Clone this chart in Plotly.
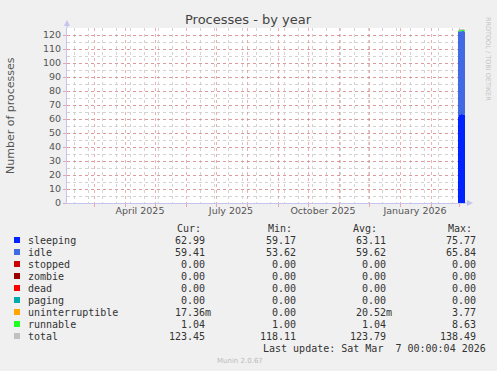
import plotly.graph_objects as go

# ---------------- data ----------------
dates = ["2026-02-28", "2026-03-01", "2026-03-02", "2026-03-03",
         "2026-03-04", "2026-03-05", "2026-03-06", "2026-03-07"]
sleeping = [61.8, 63.2, 62.8, 63.5, 62.9, 63.4, 63.1, 62.99]
idle = [60.3, 59.5, 59.8, 59.2, 59.9, 59.6, 59.4, 59.41]
stopped = [0, 0, 0, 0, 0, 0, 0, 0]
zombie = [0, 0, 0, 0, 0, 0, 0, 0]
dead = [0, 0, 0, 0, 0, 0, 0, 0]
paging = [0, 0, 0, 0, 0, 0, 0, 0]
uninterruptible = [0.02, 0.02, 0.03, 0.02, 0.01, 0.02, 0.02, 0.017]
runnable = [1.1, 1.05, 1.04, 1.03, 1.06, 1.02, 1.05, 1.04]

series_names = ["sleeping", "idle", "stopped", "zombie", "dead", "paging",
                "uninterruptible", "runnable", "total"]
series_colors = ["#0022ff", "#4169e1", "#cc0000", "#990000", "#ff0000",
                 "#00aaaa", "#ffa500", "#22ff22", "#c0c0c0"]
stack_values = [sleeping, idle, stopped, zombie, dead, paging,
                uninterruptible, runnable]
total = [sum(v) for v in zip(*stack_values)]

cur_vals = [62.99, 59.41, 0, 0, 0, 0, 0.01736, 1.04, 123.45]
min_vals = [59.17, 53.62, 0, 0, 0, 0, 0, 1.00, 118.11]
avg_vals = [63.11, 59.62, 0, 0, 0, 0, 0.02052, 1.04, 123.79]
max_vals = [75.77, 65.84, 0, 0, 0, 0, 3.77, 8.63, 138.49]

x_range = ["2025-02-02", "2026-03-07"]
y_ticks = list(range(0, 121, 10))
month_label_vals = ["2025-04-16", "2025-07-16", "2025-10-16", "2026-01-16"]
month_label_text = ["April 2025", "July 2025", "October 2025", "January 2026"]

# ---------------- geometry helpers ----------------
W, H = 497, 371
L, R, T, B = 67, 465, 28, 203
pw, ph = R - L, B - T


def px(x):
    return (x - L) / pw


def py(y):
    return (B - y) / ph


def fmt(v):
    if v == 0:
        return "0.00\u00a0"
    if abs(v) < 1:
        return f"{v * 1000:.2f}m"
    return f"{v:.2f}\u00a0"


fig = go.Figure()

for name, col, vals in zip(series_names[:-1], series_colors[:-1], stack_values):
    fig.add_trace(go.Scatter(
        x=dates, y=vals, name=name, stackgroup="one", mode="lines",
        line=dict(width=0, color=col, shape="hv"), fillcolor=col,
        showlegend=False, hoverinfo="skip"))

fig.add_trace(go.Scatter(
    x=dates, y=total, name="total", mode="lines",
    line=dict(width=1, color=series_colors[-1], shape="hv"),
    showlegend=False, hoverinfo="skip"))

# dummy trace for label axis
fig.add_trace(go.Scatter(x=x_range, y=[None, None], xaxis="x2",
                         showlegend=False, hoverinfo="skip"))

red_grid = "rgba(225,110,110,0.55)"
grey_grid = "rgba(200,200,200,0.8)"
axis_col = "#c4c4ee"
tick_font = dict(family="DejaVu Sans", size=9.5, color="#555555")

fig.update_layout(
    width=W, height=H,
    margin=dict(l=L, r=W - R, t=T, b=H - B, autoexpand=False),
    paper_bgcolor="#f0f0f0", plot_bgcolor="#ffffff",
    showlegend=False,
    xaxis=dict(
        type="date", range=x_range, automargin=False,
        tickmode="linear", tick0="2025-01-01", dtick="M1",
        showticklabels=False, ticks="outside", ticklen=3, tickcolor=red_grid,
        showgrid=True, gridcolor=red_grid, griddash="dot", gridwidth=1,
        minor=dict(tick0="2025-02-09", dtick=14 * 86400000, showgrid=True,
                   gridcolor=grey_grid, griddash="dot", gridwidth=1),
        showline=True, linecolor=axis_col, linewidth=1, zeroline=False,
    ),
    xaxis2=dict(
        type="date", overlaying="x", matches="x", anchor="y", side="bottom",
        tickmode="array", tickvals=month_label_vals, ticktext=month_label_text,
        ticks="", showgrid=False, showline=False, zeroline=False,
        tickfont=tick_font, automargin=False,
    ),
    yaxis=dict(
        range=[0, 125], tickmode="array", tickvals=y_ticks,
        ticks="outside", ticklen=3, tickcolor=red_grid,
        showgrid=True, gridcolor=red_grid, griddash="dot", gridwidth=1,
        minor=dict(dtick=5, tick0=0, showgrid=True, gridcolor=grey_grid,
                   griddash="dot", gridwidth=1),
        showline=True, linecolor=axis_col, linewidth=1, zeroline=False,
        tickfont=tick_font, automargin=False,
    ),
)

shapes = []
# axis arrows
shapes.append(dict(type="path", xref="paper", yref="paper",
                   path=f"M {px(64)} {py(26)} L {px(70)} {py(26)} L {px(67)} {py(20)} Z",
                   fillcolor=axis_col, line=dict(width=0)))
shapes.append(dict(type="line", xref="paper", yref="paper",
                   x0=px(67), x1=px(67), y0=py(28), y1=py(24),
                   line=dict(color=axis_col, width=1)))
shapes.append(dict(type="line", xref="paper", yref="paper",
                   x0=px(465), x1=px(469), y0=py(203), y1=py(203),
                   line=dict(color=axis_col, width=1)))
shapes.append(dict(type="path", xref="paper", yref="paper",
                   path=f"M {px(467)} {py(200)} L {px(467)} {py(206)} L {px(473)} {py(203)} Z",
                   fillcolor=axis_col, line=dict(width=0)))

annotations = []
mono = "DejaVu Sans Mono"
txt_col = "#333333"


def ann(text, x, y, xanchor="left", size=10, family=mono, color=txt_col,
        angle=0, yanchor="middle"):
    annotations.append(dict(text=text, x=px(x), y=py(y), xref="paper",
                            yref="paper", xanchor=xanchor, yanchor=yanchor,
                            showarrow=False, borderpad=0, textangle=angle,
                            font=dict(family=family, size=size, color=color)))


# title and axis titles
ann("Processes - by year", 248, 19, xanchor="center", size=13,
    family="DejaVu Sans", color="#444444")
ann("Number of processes", 10, 115, xanchor="center", size=11,
    family="DejaVu Sans", color="#555555", angle=-90)
ann("RRDTOOL / TOBI OETIKER", 488, 59, xanchor="center", size=6.5,
    family="DejaVu Sans", color="#c4c4c4", angle=90)
ann("Munin 2.0.67", 240, 361, xanchor="center", size=7,
    family="DejaVu Sans", color="#bbbbbb")

# legend header
ann("Cur:", 176, 228)
ann("Min:", 267, 228)
ann("Avg:", 352, 228)
ann("Max:", 447, 228)

for i, name in enumerate(series_names):
    yy = 240 + 12 * i
    shapes.append(dict(type="rect", xref="paper", yref="paper",
                       x0=px(14), x1=px(20), y0=py(yy - 3), y1=py(yy + 3),
                       fillcolor=series_colors[i], line=dict(width=0)))
    ann(name, 27, yy)
    ann(fmt(cur_vals[i]), 212, yy, xanchor="right")
    ann(fmt(min_vals[i]), 303, yy, xanchor="right")
    ann(fmt(avg_vals[i]), 393, yy, xanchor="right")
    ann(fmt(max_vals[i]), 483, yy, xanchor="right")

ann("Last update: Sat Mar\u00a0\u00a07 00:00:04 2026", 262, 348)

fig.update_layout(shapes=shapes, annotations=annotations)
fig.write_html(
    "out.html",
    config={"displayModeBar": False, "staticPlot": True},
    post_script="document.body.style.margin='0';"
                "document.body.style.background='#f0f0f0';"
                "document.body.style.overflow='hidden';")
